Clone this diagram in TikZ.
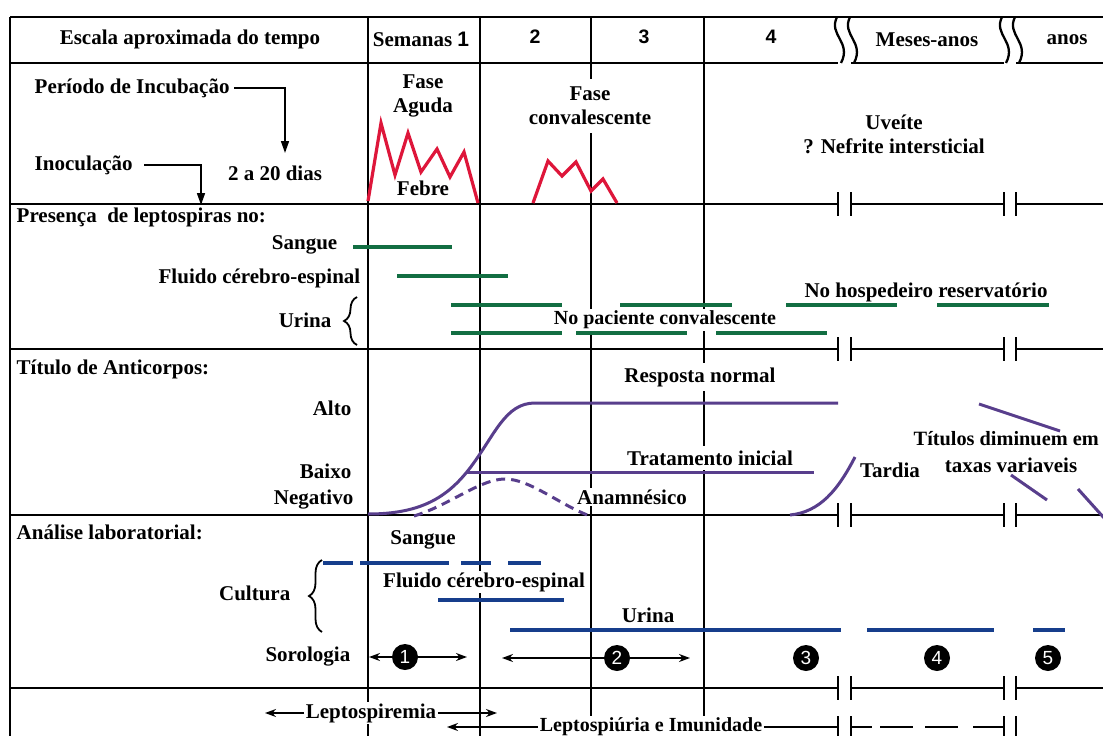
\documentclass[tikz,border=0pt]{standalone}
\usepackage{fontspec}
\setmainfont{Liberation Serif}
\newfontfamily\sansf{Liberation Sans}
\usetikzlibrary{arrows.meta,decorations.pathreplacing}
\definecolor{fred}{RGB}{222,22,58}
\definecolor{fgreen}{RGB}{18,110,66}
\definecolor{fpurple}{RGB}{88,62,140}
\definecolor{fblue}{RGB}{22,62,140}
\begin{document}
\begin{tikzpicture}[x=1pt,y=-1pt,
 gridl/.style={line width=2.3pt,black},
 brk/.style={line width=2.3pt,black},
 txt/.style={font=\bfseries\fontsize{21}{24}\selectfont, fill=white, inner sep=1.5pt, align=center},
 txts/.style={txt, font=\bfseries\fontsize{20}{24}\selectfont},
 num/.style={font=\sansf\bfseries\fontsize{19.5}{22}\selectfont, inner sep=1pt},
 circ/.style={circle, fill=black, minimum size=26pt, inner sep=0pt, text=white, font=\sansf\fontsize{19}{20}\selectfont},
 redl/.style={fred, line width=3.2pt, line join=miter},
 greenl/.style={fgreen, line width=3.5pt},
 purpl/.style={fpurple, line width=3pt},
 bluel/.style={fblue, line width=3.5pt},
 arr/.style={line width=1.6pt, -{Stealth[length=11pt,width=8pt]}},
 darr/.style={line width=1.6pt, -{Triangle[length=12pt,width=8pt]}},
 bracel/.style={line width=1.8pt, decorate, decoration={brace, amplitude=13pt}},
]
\useasboundingbox (0,0) rectangle (1103,736);
\fill[white] (0,0) rectangle (1103,736);

% ---------- grid ----------
\draw[gridl] (10,17) -- (1103,17);
\draw[gridl] (10,17) -- (10,737);
\foreach \x in {368,480,591,704} \draw[gridl] (\x,17) -- (\x,737);
\foreach \y in {63,204,349,515,688} {
  \draw[gridl] (10,\y) -- (838,\y);
  \draw[gridl] (851,\y) -- (1004,\y);
  \draw[gridl] (1016,\y) -- (1103,\y);
}
\foreach \y in {204,349,515,688}
  \foreach \x in {838,851,1004,1016}
    \draw[brk] (\x,\y-12) -- (\x,\y+12);
\foreach \x in {838,851,1004,1016} \draw[brk] (\x,716) -- (\x,737);
\foreach \x in {837,850,1002,1015}
  \draw[line width=2.3pt] (\x,17) .. controls (\x-9,35) and (\x+15,42) .. (\x+4,63);

% ---------- header ----------
\node[txt] (esc) at (190,39) {Escala aproximada do tempo};
\node[txt] (sem) at (421,39) {Semanas {\sansf 1}};
\node[num] (w2) at (535,37) {2};
\node[num] (w3) at (644,37) {3};
\node[num] (w4) at (771,37) {4};
\node[txt] (mes) at (927,40) {Meses-anos};
\node[txt] (anos) at (1067,40) {anos};

% ---------- row 2 ----------
\node[txt, anchor=west] (per) at (33,88) {Período de Incubação};
\coordinate (perc) at (285,88);
\coordinate (pert) at (285,153);
\draw[darr, shorten <=3pt] (per.east) -- (perc) -- (pert);
\node[txt, anchor=west] (inoc) at (33,165) {Inoculação};
\coordinate (inocc) at (201,165);
\coordinate (inoct) at (201,205);
\draw[darr, shorten <=10pt] (inoc.east) -- (inocc) -- (inoct);
\node[txt] (dias) at (275,173) {2 a 20 dias};
\node[txt] (fa) at (423,96) {Fase\\Aguda};
\node[txt] (feb) at (423,188) {Febre};
\node[txt, inner ysep=8pt] (fc) at (590,106) {Fase\\convalescente};
\node[txt] (uv) at (894,134) {Uveíte\\? Nefrite intersticial};
\draw[redl] (368,201) -- (381,123) -- (395,175) -- (408,133) -- (421,172) -- (437,149) -- (450,177) -- (464,152) -- (478,203);
\draw[redl] (533,203) -- (548,161) -- (562,176) -- (576,162) -- (591,191) -- (603,179) -- (617,203);

% ---------- row 3 ----------
\node[txt, anchor=west] (pres) at (15,217) {Presença\ \ de leptospiras no:};
\node[txt, anchor=east] (sang) at (339,245) {Sangue};
\node[txt, anchor=east] (flu) at (362,278) {Fluido cérebro-espinal};
\node[txt, anchor=east] (uri) at (333,320) {Urina};
\draw[bracel] (357,345) -- (357,297);
\node[txts] (npc) at (665,320) {No paciente convalescente};
\node[txt] (nhr) at (926,292) {No hospedeiro reservatório};
\draw[greenl] (353,247) -- (452,247);
\draw[greenl] (397,276) -- (508,276);
\draw[greenl] (451,305) -- (562,305);
\draw[greenl] (620,305) -- (732,305);
\draw[greenl] (786,305) -- (897,305);
\draw[greenl] (937,305) -- (1049,305);
\draw[greenl] (451,333) -- (562,333);
\draw[greenl] (576,333) -- (687,333);
\draw[greenl] (716,333) -- (827,333);

% ---------- row 4 ----------
\node[txt, anchor=west] (tit) at (15,369) {Título de Anticorpos:};
\node[txt, anchor=east] (alto) at (353,408) {Alto};
\node[txt, anchor=east] (baixo) at (353,471) {Baixo};
\node[txt, anchor=east] (neg) at (355,500) {Negativo};
\node[txt, inner ysep=4pt] (resp) at (700,377) {Resposta normal};
\node[txt, inner ysep=5pt] (trat) at (710,458) {Tratamento inicial};
\node[txt] (anam) at (632,497) {Anamnésico};
\node[txt] (tard) at (890,470) {Tardia};
\node[txt, font=\bfseries\fontsize{20.3}{24}\selectfont, anchor=west, inner xsep=0.5pt] (tdim) at (913,439) {Títulos diminuem em};
\node[txt] (taxa) at (1011,465) {taxas variaveis};
\draw[purpl] (368,514) .. controls (420,514) and (447,498) .. (470,468)
   .. controls (495,435) and (505,403) .. (535,403) -- (838,403);
\draw[purpl] (467,472) -- (814,472);
\draw[purpl, dash pattern=on 9pt off 6pt] (414,516) .. controls (450,505) and (480,479) .. (505,479)
   .. controls (530,479) and (560,505) .. (590,516);
\draw[purpl] (790,515) .. controls (820,512) and (838,490) .. (855,457);
\draw[purpl] (979,404) -- (1060,431);
\draw[purpl] (1011,475) -- (1047,500);
\draw[purpl] (1078,489) -- (1105,519);

% ---------- row 5 ----------
\node[txt, anchor=west] (anal) at (15,532) {Análise laboratorial:};
\node[txt] (sang2) at (423,540) {Sangue};
\node[txt, anchor=east] (cult) at (292,593) {Cultura};
\draw[bracel] (322,632) -- (322,560);
\node[txt] (flu2) at (484,582) {Fluido cérebro-espinal};
\node[txt] (uri2) at (648,615) {Urina};
\node[txt, anchor=east] (soro) at (352,657) {Sorologia};
\draw[bluel] (323,563) -- (353,563);
\draw[bluel] (360,563) -- (449,563);
\draw[bluel] (461,563) -- (491,563);
\draw[bluel] (508,563) -- (541,563);
\draw[bluel] (438,600) -- (564,600);
\draw[bluel] (510,630) -- (841,630);
\draw[bluel] (867,630) -- (994,630);
\draw[bluel] (1033,630) -- (1065,630);
\node[circ] (c1) at (405,657) {1};
\node[circ] (c2) at (617,658) {2};
\node[circ] (c3) at (806,658) {3};
\node[circ] (c4) at (937,658) {4};
\node[circ] (c5) at (1048,658) {5};
\coordinate (a1l) at (369,657);
\coordinate (a1r) at (467,657);
\coordinate (a2l) at (502,658);
\coordinate (a2r) at (690,658);
\draw[arr] (c1.west) -- (a1l);
\draw[arr] (c1.east) -- (a1r);
\draw[arr] (c2.west) -- (a2l);
\draw[arr] (c2.east) -- (a2r);

% ---------- row 6 ----------
\node[txt] (lep) at (371,713) {Leptospiremia};
\node[txts] (lept) at (651,727) {Leptospiúria e Imunidade};
\coordinate (lepL) at (265,713);
\coordinate (lepR) at (497,713);
\draw[arr] (lep.west) -- (lepL);
\draw[arr] (lep.east) -- (lepR);
\coordinate (leptL) at (447,727);
\coordinate (leptR) at (838,727);
\coordinate (dashA) at (851,727);
\coordinate (dashB) at (1004,727);
\draw[arr] (lept.west) -- (leptL);
\draw[line width=1.6pt] (lept.east) -- (leptR);
\draw[line width=1.6pt, dash pattern=on 21pt off 8pt on 33pt off 12pt on 33pt off 15pt on 40pt] (dashA) -- (dashB);
\end{tikzpicture}
\end{document}
